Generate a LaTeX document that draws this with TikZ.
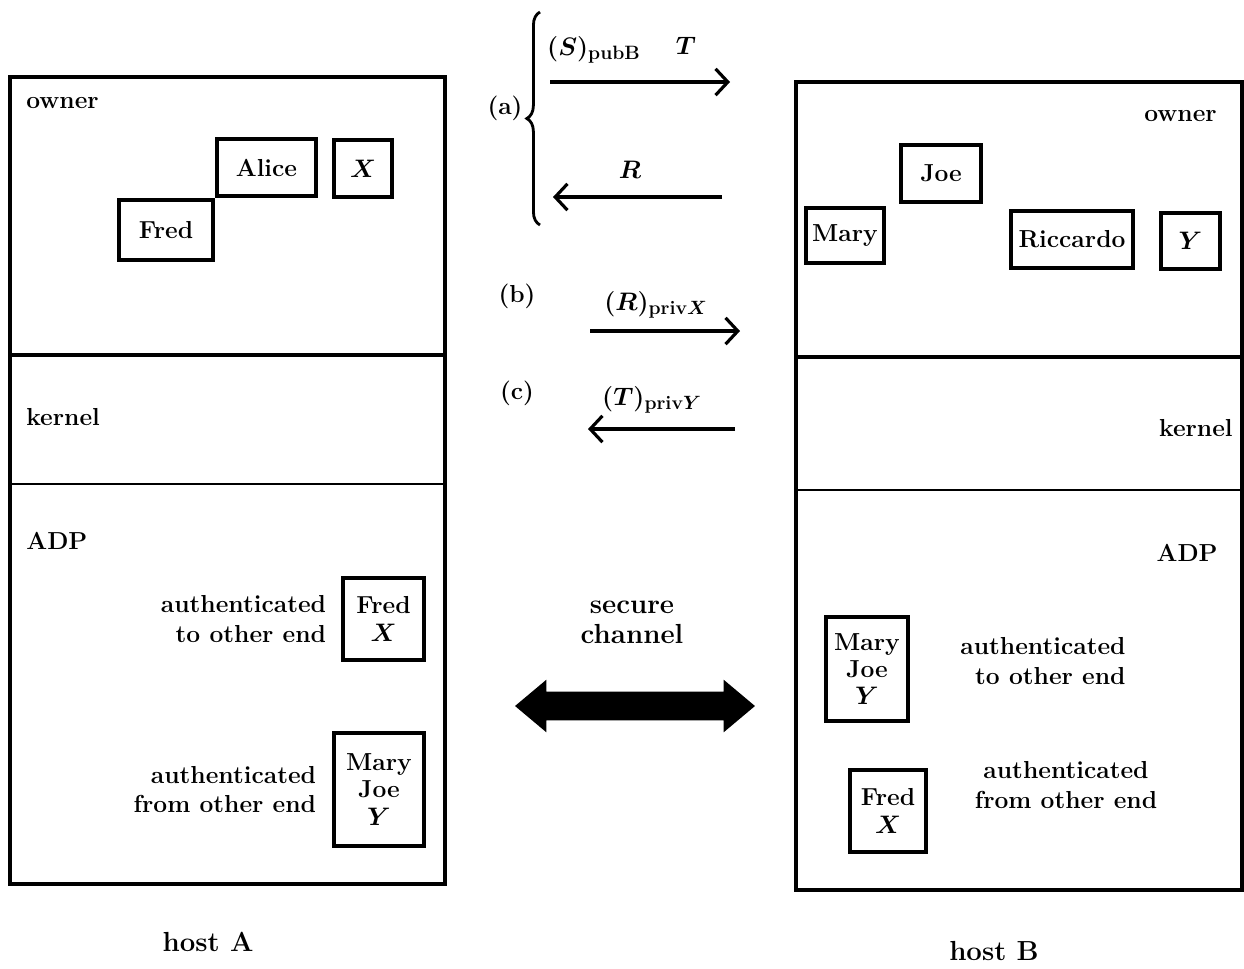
\documentclass[tikz,border=0pt]{standalone}
\usepackage{fontspec}
\usepackage{tikz}
\usetikzlibrary{shapes,shapes.arrows,arrows.meta,decorations.pathreplacing,positioning}
\newcommand{\sub}[1]{\mbox{\fontsize{11}{11}\selectfont\bfseries #1}}
\tikzset{
  hostbox/.style={draw, line width=1.9pt, inner sep=0pt},
  namebox/.style={draw, line width=1.8pt, inner sep=0pt, align=center, font=\fontsize{14}{15.5}\selectfont\bfseries\boldmath},
  lay/.style={inner sep=0pt, font=\fontsize{14}{17}\selectfont\bfseries},
  note/.style={inner sep=0pt, font=\fontsize{14}{17}\selectfont\bfseries\boldmath},
  msg/.style={line width=1.8pt, -{Straight Barb[length=7pt,width=15pt,line width=1.8pt]}},
  big/.style={inner sep=0pt, align=center, font=\fontsize{15.7}{17}\selectfont\bfseries}
}
\begin{document}
\begin{tikzpicture}[x=0.02cm, y=-0.02cm]
  \useasboundingbox (0,0) rectangle (1244,968);
  % the two hosts
  \node[hostbox, minimum width=8.7cm, minimum height=16.14cm] (hostA) at (227.5,480.5) {};
  \node[hostbox, minimum width=8.92cm, minimum height=16.16cm] (hostB) at (1019,486) {};
  \draw[line width=1.9pt] (hostA.west |- 0,355) -- (hostA.east |- 0,355);
  \draw[line width=1.4pt] (hostA.west |- 0,484) -- (hostA.east |- 0,484);
  \draw[line width=1.9pt] (hostB.west |- 0,357) -- (hostB.east |- 0,357);
  \draw[line width=1.4pt] (hostB.west |- 0,490) -- (hostB.east |- 0,490);
  \node[big] (nameA) at (208,942) {host A};
  \node[big] (nameB) at (994,951) {host B};

  % layers
  \node[lay, anchor=west] (ownA) at (26,103) {owner};
  \node[lay, anchor=west] (kerA) at (26,417) {kernel};
  \node[lay, anchor=west] (adpA) at (26,541) {ADP};
  \node[lay, anchor=east] (ownB) at (1217,116) {owner};
  \node[lay, anchor=east] (kerB) at (1233,428) {kernel};
  \node[lay, anchor=east] (adpB) at (1218,553) {ADP};

  % owner level, host A
  \node[namebox, minimum width=1.98cm, minimum height=1.14cm] (alice) at (266.5,167.5) {Alice};
  \node[namebox, minimum width=1.16cm, minimum height=1.14cm] (keyX) at (363,168.5) {$X$};
  \node[namebox, minimum width=1.88cm, minimum height=1.2cm] (fredA) at (166,230) {Fred};
  % owner level, host B
  \node[namebox, minimum width=1.6cm, minimum height=1.14cm] (joe) at (941,173.5) {Joe};
  \node[namebox, minimum width=1.56cm, minimum height=1.1cm] (mary) at (845,235.5) {Mary};
  \node[namebox, minimum width=2.44cm, minimum height=1.14cm] (ricc) at (1072,239.5) {Riccardo};
  \node[namebox, minimum width=1.18cm, minimum height=1.12cm] (keyY) at (1190.5,241) {$Y$};

  % ADP, host A
  \node[namebox, minimum width=1.62cm, minimum height=1.64cm] (toA) at (383.5,619) {Fred\\$X$};
  \node[note, align=right, left=0.3cm of toA] (toAtxt) {authenticated\\to other end};
  \node[namebox, minimum width=1.8cm, minimum height=2.26cm] (fromA) at (379,789.5) {Mary\\Joe\\$Y$};
  \node[note, align=right, left=0.32cm of fromA] (fromAtxt) {authenticated\\from other end};
  % ADP, host B
  \node[namebox, minimum width=1.64cm, minimum height=2.08cm] (toB) at (867,669) {Mary\\Joe\\$Y$};
  \node[note, align=right, anchor=west] (toBtxt) at (960,661) {authenticated\\to other end};
  \node[namebox, minimum width=1.52cm, minimum height=1.64cm] (fromB) at (888,811) {Fred\\$X$};
  \node[note, align=center] (fromBtxt) at (1066,785) {authenticated\\from other end};

  % protocol steps
  \coordinate (a1) at (550,82);  \coordinate (a2) at (730,82);
  \coordinate (a3) at (722,197); \coordinate (a4) at (553,197);
  \coordinate (b1) at (590,331); \coordinate (b2) at (740,331);
  \coordinate (c1) at (735,429); \coordinate (c2) at (588,429);
  \draw[msg] (a1) -- (a2);
  \draw[msg] (a3) -- (a4);
  \draw[msg] (b1) -- (b2);
  \draw[msg] (c1) -- (c2);
  \draw[line width=1.6pt, decorate, decoration={brace, amplitude=7.5pt}] (540,225) -- (540,12);
  \node[note] (stepa) at (505,108) {(a)};
  \node[note] (stepb) at (517,296) {(b)};
  \node[note] (stepc) at (517,393) {(c)};
  \node[note] (msgS) at (594,50) {$(S)_{\sub{pubB}}$};
  \node[note] (msgT) at (686,46) {$T$};
  \node[note] (msgR) at (630,170) {$R$};
  \node[note] (msgRX) at (656,305) {$(R)_{\sub{priv$X$}}$};
  \node[note] (msgTY) at (652,400) {$(T)_{\sub{priv$Y$}}$};

  % secure channel
  \node[big] (sec) at (632,622) {secure\\channel};
  \node[double arrow, fill=black, inner xsep=0pt, inner ysep=0.28cm, minimum height=4.8cm,
        double arrow head extend=0.24cm, double arrow tip angle=80] (chan) at (635,706) {};
\end{tikzpicture}
\end{document}
